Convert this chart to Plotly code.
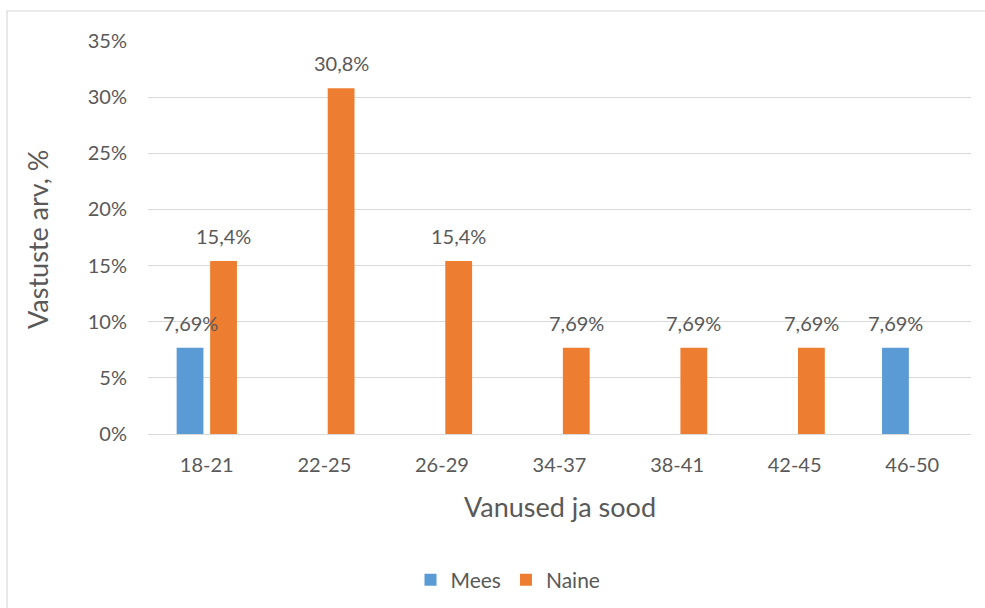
import plotly.graph_objects as go

# Age groups and share of respondents (%) by gender
age_groups = ["18-21", "22-25", "26-29", "34-37", "38-41", "42-45", "46-50"]
mees = [7.69, None, None, None, None, None, 7.69]
naine = [15.4, 30.8, 15.4, 7.69, 7.69, 7.69, None]
y_ticks = [0, 5, 10, 15, 20, 25, 30, 35]

BLUE = "#5B9BD5"
ORANGE = "#ED7D31"
TEXT = "#595959"
GRID = "#D9D9D9"
FONT = "Lato, 'Open Sans', sans-serif"

W, H = 985, 608
L, R, T, B = 148, 14, 41, 174
pw, ph = W - L - R, H - T - B
BAR_OFFSET = 16.75  # px from category centre to each bar centre


def fmt(v):
    return f"{v:.3g}".replace(".", ",") + "%"


def px_x(x):
    return (x - L) / pw


def px_y(y):
    return (H - B - y) / ph


fig = go.Figure()
for name, vals, col in [("Mees", mees, BLUE), ("Naine", naine, ORANGE)]:
    fig.add_trace(go.Bar(
        name=name, x=age_groups, y=vals, marker_color=col,
        marker_line_width=0,
    ))

# value labels above each bar
labels = []
for vals, shift in [(mees, -BAR_OFFSET), (naine, BAR_OFFSET)]:
    for cat, v in zip(age_groups, vals):
        if v is None:
            continue
        labels.append(dict(
            x=cat, y=v, xref="x", yref="y", text=fmt(v), showarrow=False,
            xshift=shift, yshift=25, xanchor="center", yanchor="middle",
            font=dict(size=20, color=TEXT, family=FONT),
        ))

fig.update_layout(
    width=W, height=H,
    margin=dict(l=L, r=R, t=T, b=B, autoexpand=False),
    paper_bgcolor="white", plot_bgcolor="white",
    font=dict(family=FONT, color=TEXT),
    barmode="group", bargap=0.43, bargroupgap=0.2,
    showlegend=True,
    legend=dict(orientation="h", x=px_x(508), y=px_y(580), xanchor="center",
                yanchor="middle", font=dict(size=21, color=TEXT, family=FONT),
                itemwidth=30, traceorder="normal"),
    xaxis=dict(showgrid=False, showline=False, ticks="",
               tickfont=dict(size=20, color=TEXT, family=FONT),
               ticklabelstandoff=17, automargin=False),
    yaxis=dict(range=[0, 35], tickvals=y_ticks,
               ticktext=[f"{v}%" for v in y_ticks],
               showgrid=True, gridcolor=GRID, gridwidth=1.4,
               zeroline=True, zerolinecolor=GRID, zerolinewidth=1.4,
               showline=False, ticks="",
               tickfont=dict(size=20, color=TEXT, family=FONT),
               ticklabelstandoff=20, automargin=False),
    annotations=labels + [
        dict(text="Vastuste arv, %", x=px_x(38), y=px_y(239), xref="paper",
             yref="paper", textangle=-90, showarrow=False,
             xanchor="center", yanchor="middle",
             font=dict(size=27, color=TEXT, family=FONT)),
        dict(text="Vanused ja sood", x=px_x(560), y=px_y(506), xref="paper",
             yref="paper", showarrow=False,
             xanchor="center", yanchor="middle",
             font=dict(size=27, color=TEXT, family=FONT)),
    ],
    shapes=[dict(type="rect", xref="paper", yref="paper",
                 x0=px_x(7), y0=px_y(700), x1=px_x(1100), y1=px_y(11),
                 line=dict(color=GRID, width=1.2), fillcolor="rgba(0,0,0,0)",
                 layer="below")],
)

fig.write_html("out.html")
